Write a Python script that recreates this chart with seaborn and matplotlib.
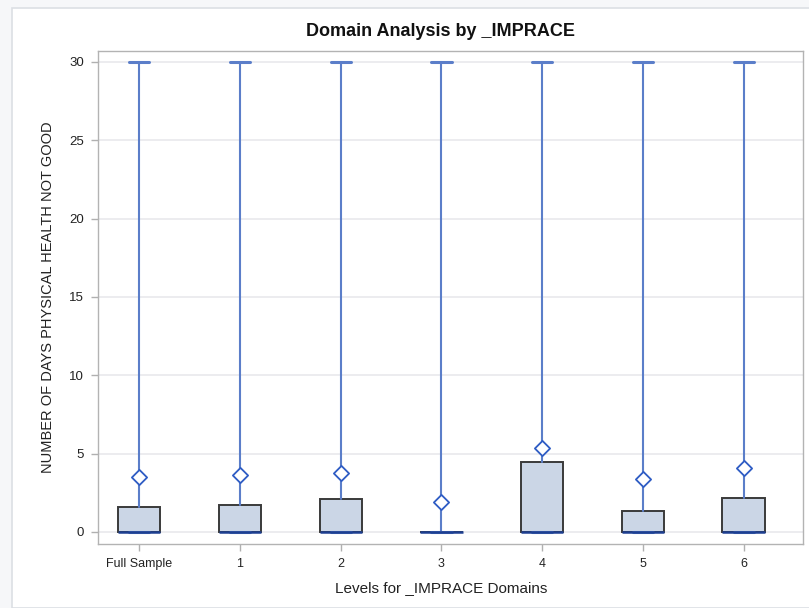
import matplotlib
matplotlib.use("Agg")
import matplotlib.pyplot as plt
from matplotlib.patches import Rectangle
import seaborn as sns
import pandas as pd

# ---- data ----
categories = ["Full Sample", "1", "2", "3", "4", "5", "6"]
q1_vals = [0, 0, 0, 0, 0, 0, 0]
median_vals = [0, 0, 0, 0, 0, 0, 0]
q3_vals = [1.62, 1.71, 2.11, 0.0, 4.49, 1.34, 2.15]
min_vals = [0, 0, 0, 0, 0, 0, 0]
max_vals = [30, 30, 30, 30, 30, 30, 30]
mean_vals = [3.53, 3.64, 3.77, 1.90, 5.35, 3.39, 4.07]

title = "Domain Analysis by _IMPRACE"
xlabel = "Levels for _IMPRACE Domains"
ylabel = "NUMBER OF DAYS PHYSICAL HEALTH NOT GOOD"
yticks = [0, 5, 10, 15, 20, 25, 30]

sns.set_theme(style="white")
plt.rcParams["font.family"] = ["Liberation Sans", "DejaVu Sans"]

W, H = 809, 608
fig = plt.figure(figsize=(W / 100, H / 100), dpi=100)
fig.patch.set_facecolor("#f6f7f9")
# white panel with light border (as in the screenshot)
fig.patches.append(Rectangle((12 / W, 0), 1.2, 1 - 8 / H, transform=fig.transFigure,
                             facecolor="white", edgecolor="#dcdfe4", linewidth=1.2, zorder=-10))

ax = fig.add_axes([98 / W, 1 - 544 / H, (803 - 98) / W, (544 - 50.7) / H])
ax.set_zorder(5)
ax.set_facecolor("white")

whisker_c = "#5b7ec9"
box_face = "#cbd6e6"
box_edge = "#3a3a3a"
median_c = "#1d3f91"
mean_c = "#2e5cc4"

stats = []
for i, c in enumerate(categories):
    stats.append(dict(label=c, q1=q1_vals[i], med=median_vals[i], q3=q3_vals[i],
                      whislo=min_vals[i], whishi=max_vals[i], mean=mean_vals[i], fliers=[]))

positions = list(range(len(categories)))
ax.bxp(stats, positions=positions, widths=0.42, patch_artist=True, showmeans=False,
       showfliers=False,
       boxprops=dict(facecolor=box_face, edgecolor=box_edge, linewidth=1.4),
       medianprops=dict(color=median_c, linewidth=1.8),
       whiskerprops=dict(color=whisker_c, linewidth=1.5),
       capprops=dict(color=whisker_c, linewidth=2.2),
       capwidths=0.2, zorder=3)

df = pd.DataFrame({"cat": positions, "mean": mean_vals})
sns.scatterplot(data=df, x="cat", y="mean", marker="D", s=60, facecolor="white",
                edgecolor=mean_c, linewidth=1.3, ax=ax, zorder=5, legend=False)

ax.set_xlim(-0.41, 6.59)
ax.set_ylim(-0.77, 30.72)
ax.set_xticks(positions)
ax.set_xticklabels(categories, fontsize=9, color="#222222")
ax.set_yticks(yticks)
ax.set_yticklabels([str(t) for t in yticks], fontsize=9.5, color="#222222")
ax.tick_params(axis="both", which="both", length=5, width=1, color="#b0b0b0",
               bottom=True, left=True, pad=5)
ax.grid(axis="y", color="#e9e9ec", linewidth=1.2)
ax.grid(axis="x", visible=False)
ax.set_axisbelow(True)
for sp in ax.spines.values():
    sp.set_color("#b3b3b3")
    sp.set_linewidth(1.0)

ax.set_xlabel(xlabel, fontsize=11, color="#222222")
ax.xaxis.set_label_coords((441.5 - 98) / 705, -0.075)
ax.set_ylabel(ylabel, fontsize=10.5, color="#222222", labelpad=10)
fig.text(441 / W, 1 - 32 / H, title, ha="center", va="center",
         fontsize=13, fontweight="bold", color="#111111")

fig.savefig("out.png", dpi=100)
